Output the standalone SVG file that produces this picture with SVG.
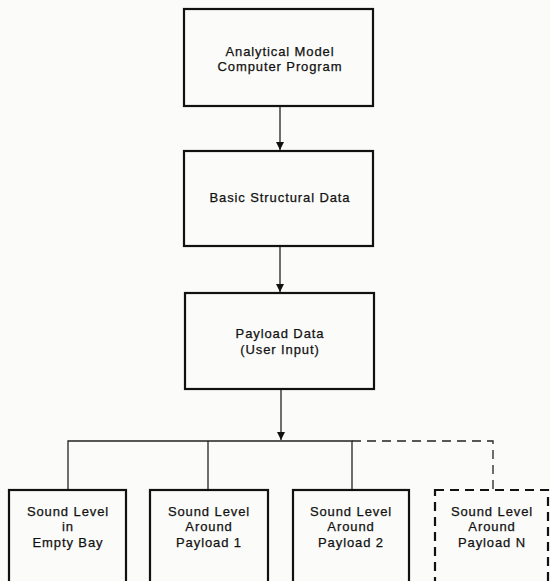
<svg xmlns="http://www.w3.org/2000/svg" width="550" height="581" viewBox="0 0 550 581">
<style>
.box{fill:#fbfbf9;stroke:#111;stroke-width:2.2}
.dbox{fill:none;stroke:#111;stroke-width:2.2;stroke-dasharray:9,6}
.ln{fill:none;stroke:#222;stroke-width:1.3}
.dln{fill:none;stroke:#222;stroke-width:1.3;stroke-dasharray:9,6}
text{font-family:"Liberation Sans",Arial,sans-serif;font-size:13px;letter-spacing:0.9px;text-anchor:middle;fill:#111;stroke:#111;stroke-width:0.25}
</style>
<defs>
<marker id="ah" markerWidth="10" markerHeight="10" refX="9" refY="5" orient="auto" markerUnits="userSpaceOnUse" viewBox="0 0 10 10">
<path d="M1,1 L9,5 L1,9 Z" fill="#111"/>
</marker>
</defs>
<rect width="550" height="581" fill="#fbfbf9"/>
<g id="connectors">
<line class="ln" x1="280" y1="106" x2="280" y2="150" marker-end="url(#ah)"/>
<line class="ln" x1="280" y1="246" x2="280" y2="292" marker-end="url(#ah)"/>
<line class="ln" x1="281" y1="389" x2="281" y2="440" marker-end="url(#ah)"/>
<polyline class="ln" points="68,490 68,441 352,441 352,490"/>
<line class="ln" x1="208" y1="441" x2="208" y2="490"/>
<polyline class="dln" points="352,441 493,441 493,490"/>
</g>
<g id="n1">
<rect class="box" x="184" y="9" width="189" height="97"/>
<text x="280" y="56">Analytical Model</text>
<text x="280" y="71">Computer Program</text>
</g>
<g id="n2">
<rect class="box" x="184" y="151" width="189" height="95"/>
<text x="280" y="202">Basic Structural Data</text>
</g>
<g id="n3">
<rect class="box" x="185" y="293" width="189" height="96"/>
<text x="280" y="338">Payload Data</text>
<text x="280" y="354">(User Input)</text>
</g>
<g id="n4">
<rect class="box" x="9" y="490" width="117" height="100"/>
<text x="68" y="516">Sound Level</text>
<text x="68" y="531">in</text>
<text x="68" y="547">Empty Bay</text>
</g>
<g id="n5">
<rect class="box" x="150" y="490" width="118" height="100"/>
<text x="209" y="516">Sound Level</text>
<text x="209" y="531">Around</text>
<text x="209" y="547">Payload 1</text>
</g>
<g id="n6">
<rect class="box" x="293" y="490" width="116" height="100"/>
<text x="351" y="516">Sound Level</text>
<text x="351" y="531">Around</text>
<text x="351" y="547">Payload 2</text>
</g>
<g id="n7">
<rect class="dbox" x="435" y="490" width="113" height="100"/>
<text x="492" y="516">Sound Level</text>
<text x="492" y="531">Around</text>
<text x="492" y="547">Payload N</text>
</g>
</svg>
